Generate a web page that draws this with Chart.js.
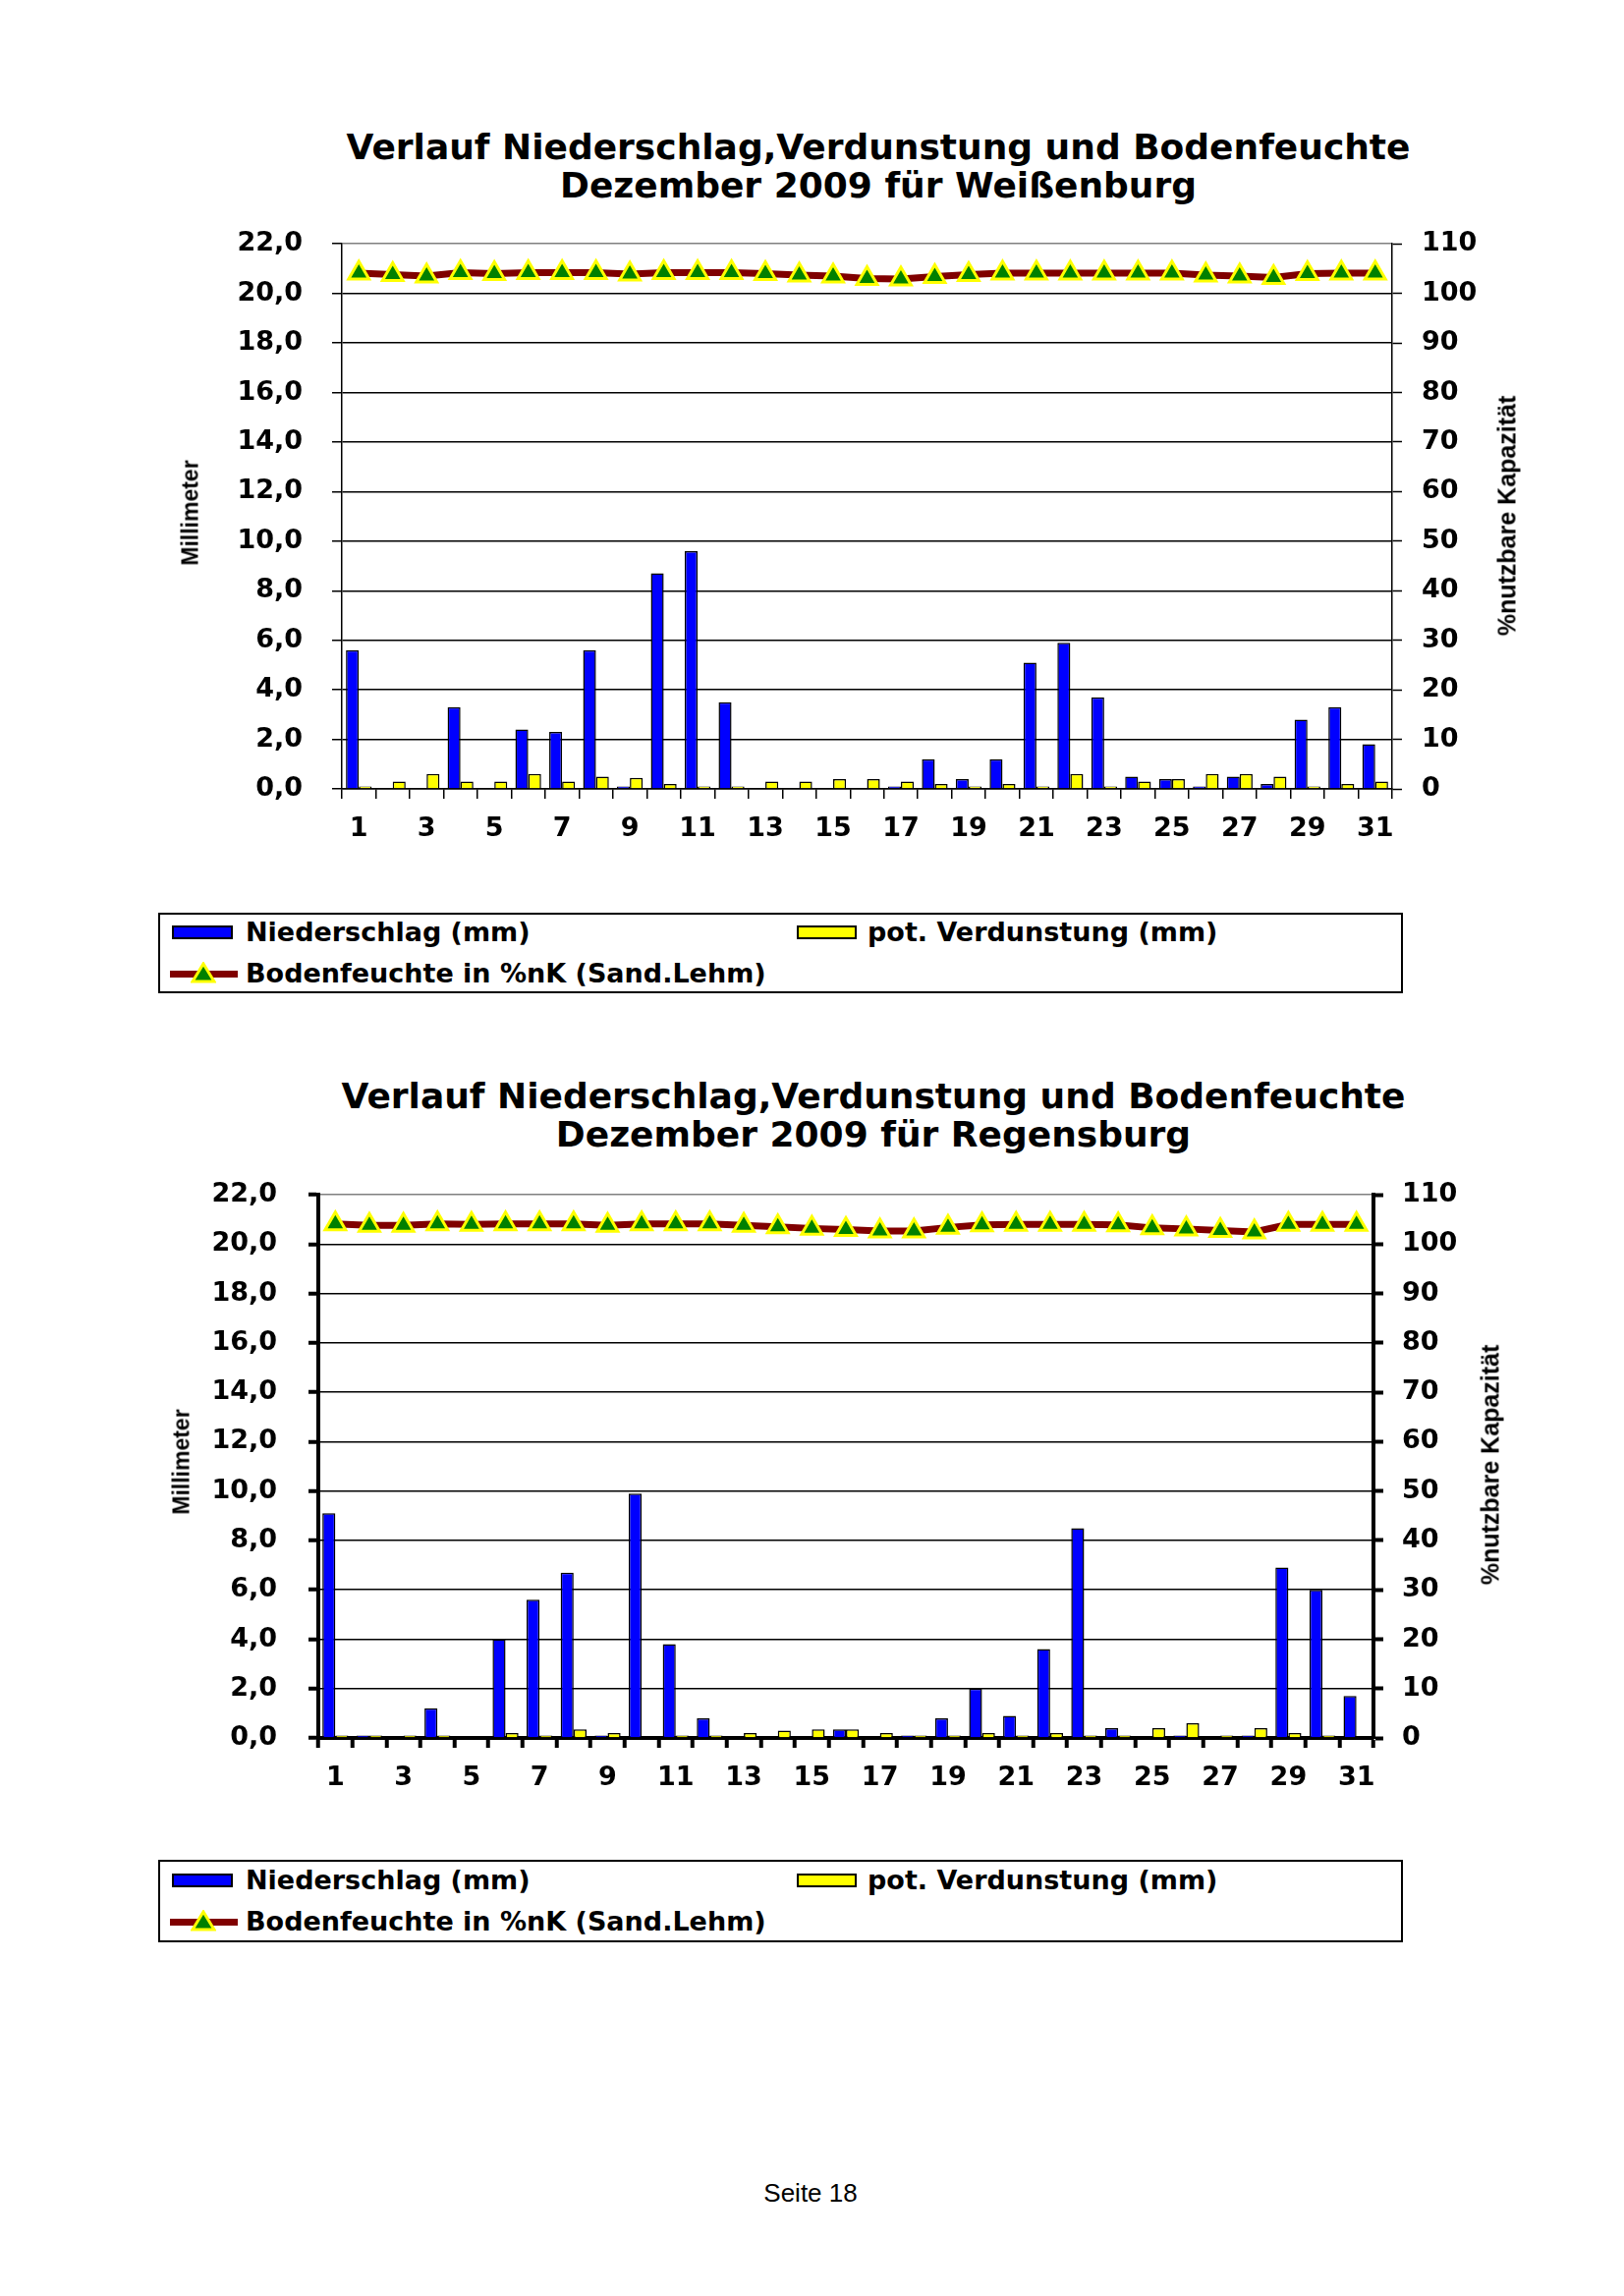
<!DOCTYPE html>
<html lang="de">
<head>
<meta charset="utf-8">
<title>Niederschlag, Verdunstung und Bodenfeuchte – Dezember 2009</title>
<script src="https://cdn.jsdelivr.net/npm/chart.js@4.4.1/dist/chart.umd.min.js"></script>
<style>
  html, body { margin: 0; padding: 0; background: #fff; }
  #page { position: relative; width: 1653px; height: 2337px; overflow: hidden; background: #fff;
          font-family: "DejaVu Sans", sans-serif; color: #000; }
  canvas { position: absolute; }
  .title { position: absolute; width: 1400px; margin-left: -700px; text-align: center;
           font-weight: bold; font-size: 36px; line-height: 39px; white-space: nowrap; }
  .ytitle { position: absolute; font-family: "Liberation Sans", Arial, sans-serif; font-weight: bold;
            white-space: nowrap; transform: translate(-50%, -50%) rotate(-90deg); }
  .legend { position: absolute; left: 161px; width: 1267px; border: 2px solid #000; box-sizing: border-box; }
  .legend .txt { position: absolute; font-weight: bold; font-size: 27px; line-height: 30px; height: 30px; white-space: nowrap; }
  .legend .sw { position: absolute; height: 14px; border: 2px solid #000; box-sizing: border-box; }
  .legend .ln { position: absolute; height: 7px; background: #800000; }
  .legend svg { position: absolute; }
  .footer { position: absolute; left: 825px; top: 2232px; transform: translate(-50%, -50%);
            font-family: "Liberation Sans", Arial, sans-serif; font-size: 26px; white-space: nowrap; }
</style>
</head>
<body>
<div id="page">
  <div class="title" style="left:894px; top:130px;">Verlauf Niederschlag,Verdunstung und Bodenfeuchte<br>Dezember 2009 für Weißenburg</div>
  <canvas id="chart1" width="1440" height="678" style="left:160px; top:202px;"></canvas>
  <div class="ytitle" style="left:194px; top:522px; font-size:23px;">Millimeter</div>
  <div class="ytitle" style="left:1534px; top:525px; font-size:25px;">%nutzbare Kapazität</div>
  <div class="legend" id="legend1" style="top:929px; height:82px;"></div>

  <div class="title" style="left:889px; top:1096px;">Verlauf Niederschlag,Verdunstung und Bodenfeuchte<br>Dezember 2009 für Regensburg</div>
  <canvas id="chart2" width="1440" height="678" style="left:140px; top:1168px;"></canvas>
  <div class="ytitle" style="left:185px; top:1488px; font-size:23px;">Millimeter</div>
  <div class="ytitle" style="left:1517px; top:1491px; font-size:25px;">%nutzbare Kapazität</div>
  <div class="legend" id="legend2" style="top:1893px; height:84px;"></div>

  <div class="footer">Seite 18</div>
</div>

<script>
// --- data ---
const days = ["1","2","3","4","5","6","7","8","9","10","11","12","13","14","15","16",
              "17","18","19","20","21","22","23","24","25","26","27","28","29","30","31"];

const seriesNames = ["Niederschlag (mm)", "pot. Verdunstung (mm)", "Bodenfeuchte in %nK (Sand.Lehm)"];

// Weißenburg
const wbgNiederschlag = [5.6, 0, 0, 3.3, 0, 2.4, 2.3, 5.6, 0.1, 8.7, 9.6, 3.5, 0, 0, 0, 0,
                         0.1, 1.2, 0.4, 1.2, 5.1, 5.9, 3.7, 0.5, 0.4, 0.1, 0.5, 0.2, 2.8, 3.3, 1.8];
const wbgVerdunstung = [0.1, 0.3, 0.6, 0.3, 0.3, 0.6, 0.3, 0.5, 0.45, 0.2, 0.1, 0.1, 0.3, 0.3, 0.4, 0.4,
                        0.3, 0.2, 0.1, 0.2, 0.1, 0.6, 0.1, 0.3, 0.4, 0.6, 0.6, 0.5, 0.1, 0.2, 0.3];
const wbgBodenfeuchte = [104.1, 103.8, 103.5, 104.2, 104, 104.2, 104.2, 104.2, 103.9, 104.2, 104.2, 104.2, 104, 103.7, 103.5, 103,
                         102.9, 103.4, 103.8, 104.1, 104.1, 104.1, 104.1, 104.1, 104.1, 103.7, 103.5, 103.2, 104, 104.1, 104.1];

// Regensburg
const rgbNiederschlag = [9.1, 0.1, 0, 1.2, 0, 4.0, 5.6, 6.7, 0.1, 9.9, 3.8, 0.8, 0, 0, 0, 0.35,
                         0, 0.1, 0.8, 2.0, 0.9, 3.6, 8.5, 0.4, 0, 0.1, 0, 0.1, 6.9, 6.0, 1.7];
const rgbVerdunstung = [0.1, 0.1, 0.1, 0.1, 0, 0.2, 0.1, 0.35, 0.2, 0, 0.1, 0.1, 0.2, 0.3, 0.35, 0.35,
                        0.2, 0.1, 0.1, 0.2, 0.1, 0.2, 0.1, 0.1, 0.4, 0.6, 0.1, 0.4, 0.2, 0.1, 0];
const rgbBodenfeuchte = [104.1, 103.8, 103.8, 104.1, 104, 104.1, 104.1, 104.1, 103.8, 104.1, 104.1, 104.1, 103.8, 103.5, 103.2, 103.0,
                         102.7, 102.7, 103.4, 103.9, 104, 104, 104, 103.9, 103.3, 103.1, 102.8, 102.5, 104, 104, 104];

// axis ranges
const mmAxis = { min: 0, max: 22, step: 2 };
const pctAxis = { min: 0, max: 110, step: 10 };

Chart.defaults.font.family = "DejaVu Sans";
Chart.defaults.color = "#000";

const tickFont = { size: 27, weight: "bold" };

// --- chart config ---
function buildConfig(niederschlag, verdunstung, boden, lay) {
  return {
    type: "bar",
    data: {
      labels: days,
      datasets: [
        {
          type: "line", label: seriesNames[2], data: boden, yAxisID: "y1", order: 0,
          borderColor: "#800000", borderWidth: 7, tension: 0,
          pointStyle: "triangle", pointRadius: 12, pointBackgroundColor: "#008000",
          pointBorderColor: "#ffff00", pointBorderWidth: 3
        },
        { label: seriesNames[0], data: niederschlag, yAxisID: "y", order: 1,
          backgroundColor: "#0000ff", borderColor: "#000", borderWidth: 1.5 },
        { label: seriesNames[1], data: verdunstung, yAxisID: "y", order: 1,
          backgroundColor: "#ffff00", borderColor: "#000", borderWidth: 1.5 }
      ]
    },
    options: {
      responsive: false,
      animation: false,
      layout: { padding: 0 },
      datasets: { bar: { categoryPercentage: 0.76, barPercentage: 1.0 } },
      plugins: { legend: { display: false }, tooltip: { enabled: false } },
      scales: {
        x: {
          grid: { drawOnChartArea: false, offset: true, tickLength: 10, color: "#000",
                  lineWidth: 1.5, tickWidth: lay.tickWidth },
          border: { display: true, color: "#000", width: lay.axisWidth },
          ticks: {
            autoSkip: false, maxRotation: 0, padding: 15, font: tickFont,
            callback: function (value, index) { return index % 2 === 0 ? this.getLabelForValue(value) : ""; }
          },
          afterFit: s => { s.height = 77; }
        },
        y: {
          position: "left", min: mmAxis.min, max: mmAxis.max,
          grid: { color: c => (c.tick && c.tick.value === mmAxis.max ? "#808080" : "#000"),
                  lineWidth: 1.5, tickLength: 10, tickColor: "#000", tickWidth: lay.tickWidth },
          border: { display: true, color: "#000", width: lay.axisWidth },
          ticks: { stepSize: mmAxis.step, padding: lay.leftPad, font: tickFont,
                   callback: v => v.toFixed(1).replace(".", ",") },
          afterFit: s => { s.width = lay.leftW; }
        },
        y1: {
          position: "right", min: pctAxis.min, max: pctAxis.max,
          grid: { drawOnChartArea: false, tickLength: 10, color: "#000", tickWidth: lay.tickWidth },
          border: { display: true, color: "#000", width: lay.axisWidth },
          ticks: { stepSize: pctAxis.step, padding: lay.rightPad, font: tickFont },
          afterFit: s => { s.width = lay.rightW; }
        }
      }
    }
  };
}

new Chart(document.getElementById("chart1"),
  buildConfig(wbgNiederschlag, wbgVerdunstung, wbgBodenfeuchte,
              { leftW: 188, rightW: 183, leftPad: 30, rightPad: 20, axisWidth: 1.5, tickWidth: 1.5 }));

new Chart(document.getElementById("chart2"),
  buildConfig(rgbNiederschlag, rgbVerdunstung, rgbBodenfeuchte,
              { leftW: 184, rightW: 182, leftPad: 32, rightPad: 19, axisWidth: 4, tickWidth: 4 }));

// --- legend boxes (html, below each chart) ---
function buildLegend(el, row1, row2) {
  el.innerHTML =
    `<div class="sw" style="left:12px; top:${row1 - 7}px; width:62px; background:#0000ff;"></div>` +
    `<div class="txt" style="left:87px; top:${row1 - 15}px;">${seriesNames[0]}</div>` +
    `<div class="sw" style="left:648px; top:${row1 - 7}px; width:61px; background:#ffff00;"></div>` +
    `<div class="txt" style="left:720px; top:${row1 - 15}px;">${seriesNames[1]}</div>` +
    `<div class="ln" style="left:10px; top:${row2 - 3}px; width:69px;"></div>` +
    `<svg width="26" height="22" style="left:31px; top:${row2 - 12}px;">` +
    `<polygon points="13,2 24,20 2,20" fill="#008000" stroke="#ffff00" stroke-width="3"/></svg>` +
    `<div class="txt" style="left:87px; top:${row2 - 15}px;">${seriesNames[2]}</div>`;
}

buildLegend(document.getElementById("legend1"), 18, 60);
buildLegend(document.getElementById("legend2"), 19, 61);
</script>
</body>
</html>
